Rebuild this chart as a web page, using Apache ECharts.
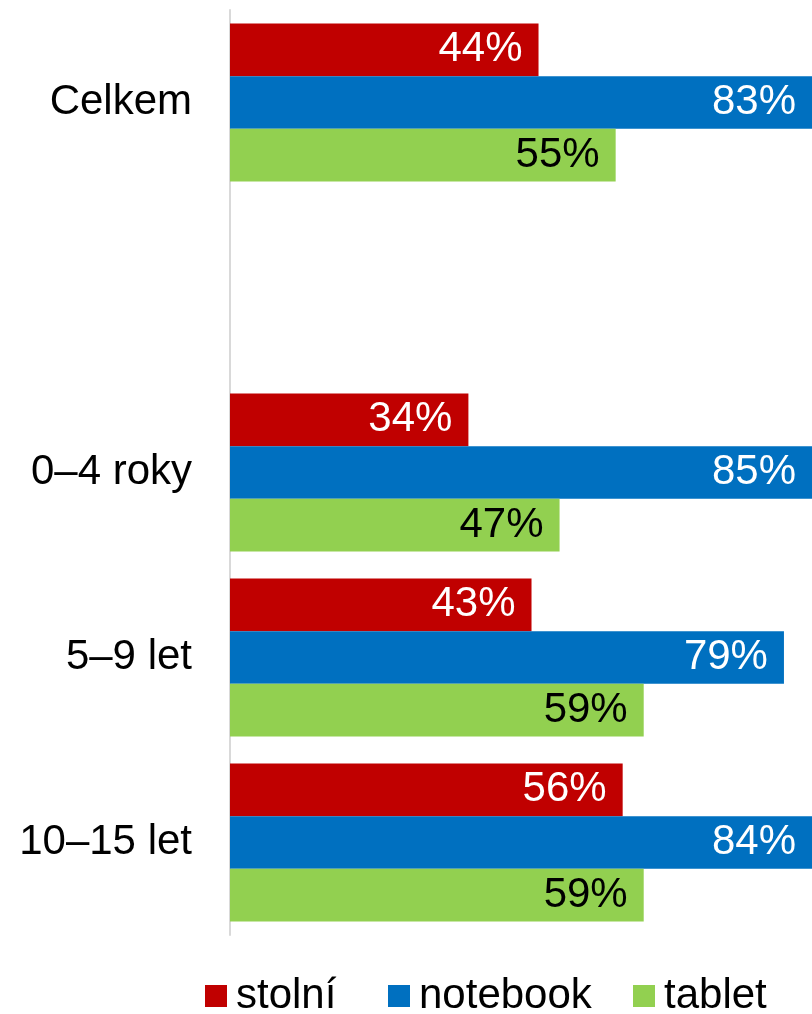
<!DOCTYPE html>
<html lang="cs">
<head>
    <meta charset="UTF-8">
    <title>zarizeni</title>
    <script src="https://cdn.jsdelivr.net/npm/echarts@6.0.0/dist/echarts.min.js"></script>
    <style>
        html, body { margin: 0; padding: 0; background: #fff; }
    </style>
</head>
<body>
<div id="main" style="width: 812px;height:1014px;"></div>
<script>
    // data (empty category = gap after "Celkem")
    var categories = ['Celkem', '', '0–4 roky', '5–9 let', '10–15 let'];
    var seriesNames = ['stolní', 'notebook', 'tablet'];
    var stolni = [44, null, 34, 43, 56];
    var notebook = [83, null, 85, 79, 84];
    var tablet = [55, null, 47, 59, 59];
    var colors = ['#C00000', '#0070C0', '#92D050'];
    var labelColors = ['#ffffff', '#ffffff', '#000000'];

    var font = 'Liberation Sans, Arial, sans-serif';
    var values = [stolni, notebook, tablet];
    var legendLeft = [205, 388, 633];

    var series = [];
    var legends = [];
    for (var i = 0; i < seriesNames.length; i++) {
        series.push({
            name: seriesNames[i],
            type: 'bar',
            data: values[i],
            barGap: 0,
            barCategoryGap: '14.6%',
            clip: true,
            itemStyle: { color: colors[i] },
            label: {
                show: true,
                position: 'insideRight',
                distance: 16,
                formatter: '{c}%',
                color: labelColors[i],
                fontSize: 42,
                fontFamily: font
            }
        });
        // one legend per item so each sits where it does in the picture
        legends.push({
            data: [seriesNames[i]],
            left: legendLeft[i],
            top: 975,
            padding: 0,
            icon: 'rect',
            itemWidth: 22,
            itemHeight: 22,
            selectedMode: false,
            textStyle: {
                fontSize: 42,
                fontFamily: font,
                color: '#000',
                padding: [0, 0, 0, 4]
            }
        });
    }

    var chart = echarts.init(document.getElementById("main"));
    var option = {
        animation: false,
        color: colors,
        grid: {
            left: 230,
            right: 0,
            top: 10,
            height: 925
        },
        legend: legends,
        xAxis: {
            type: 'value',
            min: 0,
            max: 83,
            show: false
        },
        yAxis: {
            type: 'category',
            data: categories,
            inverse: true,
            axisLine: { lineStyle: { color: '#d9d9d9', width: 2 } },
            axisTick: { show: false },
            axisLabel: {
                margin: 38,
                fontSize: 42,
                fontFamily: font,
                color: '#000',
                padding: [5, 0, 0, 0]
            }
        },
        series: series
    };
    chart.setOption(option);
</script>
</body>
</html>
